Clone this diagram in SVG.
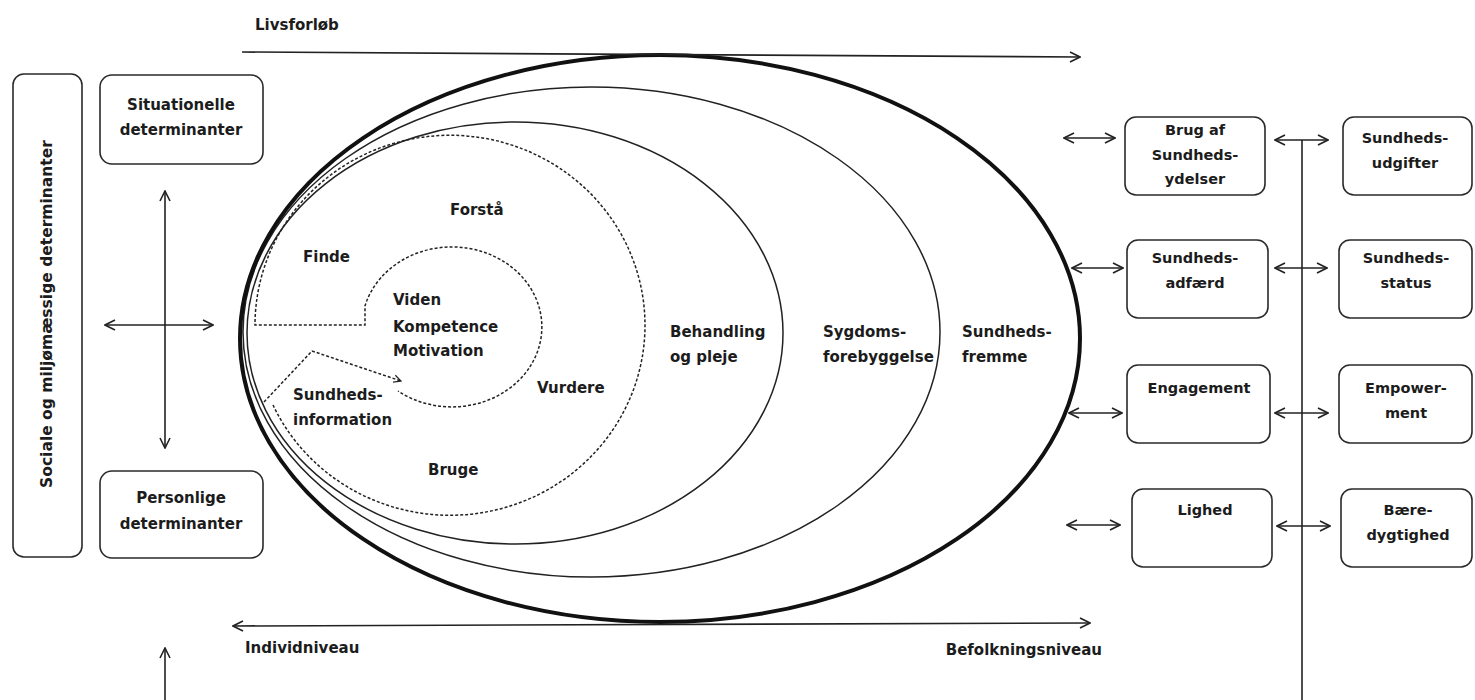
<svg xmlns="http://www.w3.org/2000/svg" width="1475" height="700" viewBox="0 0 1475 700">
<style>
.t{font-family:"DejaVu Sans",sans-serif;font-weight:bold;font-size:15px;fill:#1c1c1c}
.s{font-size:14.5px}
.m{text-anchor:middle}
.box{fill:#fff;stroke:#2a2a2a;stroke-width:1.6}
.ln{fill:none;stroke:#222;stroke-width:1.6}
.thin{fill:none;stroke:#222;stroke-width:1.5}
.dash{fill:none;stroke:#222;stroke-width:1.5;stroke-dasharray:3 2}
</style>
<defs>
<marker id="ah" viewBox="0 0 12 12" refX="11" refY="6" markerWidth="12" markerHeight="12" orient="auto-start-reverse" markerUnits="userSpaceOnUse">
<path d="M1,1 L11,6 L1,11" fill="none" stroke="#222" stroke-width="1.6"/>
</marker>
<marker id="ahs" viewBox="0 0 10 10" refX="9" refY="5" markerWidth="9" markerHeight="9" orient="auto" markerUnits="userSpaceOnUse">
<path d="M1,1 L9,5 L1,9" fill="none" stroke="#222" stroke-width="1.4"/>
</marker>
</defs>
<rect width="1475" height="700" fill="#fff"/>

<g id="ellipses">
<ellipse class="thin" cx="591.5" cy="332" rx="348.5" ry="245"/>
<ellipse class="thin" cx="515" cy="333" rx="268" ry="211"/>
<ellipse cx="660" cy="338.5" rx="420" ry="283.5" fill="none" stroke="#111" stroke-width="4"/>
<path class="dash" d="M 273 405 A 195 190 0 1 0 255 325 L 365 325 L 365 306 A 90 80 0 1 1 398 391"/>
<path class="dash" d="M 264 402 L 312 351 L 401 381" marker-end="url(#ahs)"/>
</g>

<g id="ellipse-labels">
<text class="t" x="450" y="215">Forstå</text>
<text class="t" x="303" y="262">Finde</text>
<text class="t" x="393" y="305">Viden</text>
<text class="t" x="393" y="332">Kompetence</text>
<text class="t" x="393" y="356">Motivation</text>
<text class="t" x="537" y="393">Vurdere</text>
<text class="t" x="293" y="400">Sundheds-</text>
<text class="t" x="293" y="425">information</text>
<text class="t" x="428" y="475">Bruge</text>
<text class="t" x="670" y="337">Behandling</text>
<text class="t" x="670" y="362">og pleje</text>
<text class="t" x="823" y="337">Sygdoms-</text>
<text class="t" x="823" y="362">forebyggelse</text>
<text class="t" x="962" y="337">Sundheds-</text>
<text class="t" x="962" y="362">fremme</text>
</g>

<g id="node-sociale">
<rect class="box" x="13" y="74" width="69" height="483" rx="11"/>
<text class="t" style="font-size:15.5px" x="52" y="314" text-anchor="middle" transform="rotate(-90 52 314)">Sociale og miljømæssige determinanter</text>
</g>
<g id="node-situationelle">
<rect class="box" x="100" y="75" width="163" height="89" rx="12"/>
<text class="t m" x="181" y="110">Situationelle</text>
<text class="t m" x="181" y="135">determinanter</text>
</g>
<g id="node-personlige">
<rect class="box" x="100" y="471" width="163" height="87" rx="12"/>
<text class="t m" x="181" y="503">Personlige</text>
<text class="t m" x="181" y="529">determinanter</text>
</g>

<g id="node-brug">
<rect class="box" x="1125" y="117" width="140" height="78" rx="11"/>
<text class="t s m" x="1195" y="135">Brug af</text>
<text class="t s m" x="1195" y="160">Sundheds-</text>
<text class="t s m" x="1195" y="184">ydelser</text>
</g>
<g id="node-udgifter">
<rect class="box" x="1343" y="117" width="129" height="78" rx="11"/>
<text class="t s m" x="1405" y="143">Sundheds-</text>
<text class="t s m" x="1405" y="168">udgifter</text>
</g>
<g id="node-adfaerd">
<rect class="box" x="1127" y="240" width="141" height="78" rx="11"/>
<text class="t s m" x="1195" y="263">Sundheds-</text>
<text class="t s m" x="1195" y="288">adfærd</text>
</g>
<g id="node-status">
<rect class="box" x="1339" y="240" width="133" height="78" rx="11"/>
<text class="t s m" x="1406" y="263">Sundheds-</text>
<text class="t s m" x="1406" y="288">status</text>
</g>
<g id="node-engagement">
<rect class="box" x="1127" y="365" width="143" height="78" rx="11"/>
<text class="t s m" x="1199" y="393">Engagement</text>
</g>
<g id="node-empowerment">
<rect class="box" x="1339" y="365" width="133" height="78" rx="11"/>
<text class="t s m" x="1406" y="393">Empower-</text>
<text class="t s m" x="1406" y="418">ment</text>
</g>
<g id="node-lighed">
<rect class="box" x="1132" y="489" width="140" height="78" rx="11"/>
<text class="t s m" x="1205" y="515">Lighed</text>
</g>
<g id="node-baeredygtighed">
<rect class="box" x="1341" y="489" width="131" height="78" rx="11"/>
<text class="t s m" x="1408" y="515">Bære-</text>
<text class="t s m" x="1408" y="540">dygtighed</text>
</g>

<g id="axis-labels">
<text class="t" x="255" y="30">Livsforløb</text>
<text class="t" x="245" y="653">Individniveau</text>
<text class="t" x="1102" y="655" text-anchor="end">Befolkningsniveau</text>
</g>

<g id="connectors">
<line class="ln" x1="242" y1="52" x2="1080" y2="57" marker-end="url(#ah)"/>
<line class="ln" x1="233" y1="626" x2="1090" y2="623" marker-start="url(#ah)" marker-end="url(#ah)"/>
<line class="ln" x1="165" y1="191" x2="165" y2="448" marker-start="url(#ah)" marker-end="url(#ah)"/>
<line class="ln" x1="105" y1="325" x2="213" y2="325" marker-start="url(#ah)" marker-end="url(#ah)"/>
<line class="ln" x1="165" y1="700" x2="165" y2="648" marker-end="url(#ah)"/>
<line class="ln" x1="1302" y1="140" x2="1302" y2="700"/>
<line class="ln" x1="1064" y1="138" x2="1115" y2="138" marker-start="url(#ah)" marker-end="url(#ah)"/>
<line class="ln" x1="1072" y1="268" x2="1123" y2="268" marker-start="url(#ah)" marker-end="url(#ah)"/>
<line class="ln" x1="1069" y1="413" x2="1122" y2="413" marker-start="url(#ah)" marker-end="url(#ah)"/>
<line class="ln" x1="1067" y1="525" x2="1120" y2="525" marker-start="url(#ah)" marker-end="url(#ah)"/>
<line class="ln" x1="1275" y1="140" x2="1328" y2="140" marker-start="url(#ah)" marker-end="url(#ah)"/>
<line class="ln" x1="1275" y1="268" x2="1327" y2="268" marker-start="url(#ah)" marker-end="url(#ah)"/>
<line class="ln" x1="1275" y1="413" x2="1328" y2="413" marker-start="url(#ah)" marker-end="url(#ah)"/>
<line class="ln" x1="1277" y1="526" x2="1330" y2="526" marker-start="url(#ah)" marker-end="url(#ah)"/>
</g>
</svg>
